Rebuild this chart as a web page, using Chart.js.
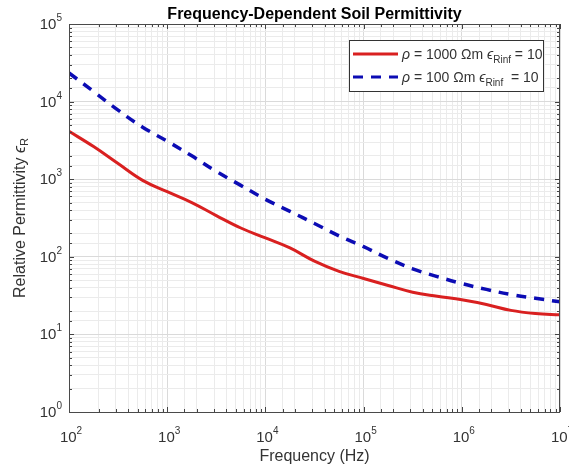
<!DOCTYPE html>
<html>
<head>
<meta charset="utf-8">
<script src="https://cdn.jsdelivr.net/npm/chart.js@4.4.0/dist/chart.umd.min.js"></script>
<style>
html,body{margin:0;padding:0;background:#fff;}
#wrap{width:569px;height:468px;}
</style>
</head>
<body>
<div id="wrap"><canvas id="c" width="569" height="468"></canvas></div>
<script>
// ---- data ----
const frequencies = [100,178,316,562,1000,1780,3160,5620,1e4,1.78e4,3.16e4,5.62e4,1e5,1.78e5,3.16e5,5.62e5,1e6,1.78e6,3.16e6,5.62e6,1e7];
const eps1000 = [4140,2630,1590,966,690,500,340,235,175,130,88,65,52.5,42.7,35,31,27.9,24.3,20.4,18.6,17.9];
const eps100  = [23400,13500,7760,4680,3090,2000,1260,832,550,385,269,186,135,95,70,55.6,45.2,38,32.7,29.2,26.3];
const xTickExps = [2,3,4,5,6,7];
const yTickExps = [0,1,2,3,4,5];
const titleText = 'Frequency-Dependent Soil Permittivity';
const xLabelText = 'Frequency (Hz)';
const yLabelParts = ['Relative Permittivity ', '\u03F5', 'R'];
const legend1 = ['\u03C1', ' = 1000 \u03A9m ', '\u03F5', 'Rinf', ' = 10'];
const legend2 = ['\u03C1', ' = 100 \u03A9m ', '\u03F5', 'Rinf', '  = 10'];

const RED = '#d92020';
const BLUE = '#0c0cb4';
const FONT = '"Liberation Sans", Arial, sans-serif';
const TXT = '#333333';

function pts(xs, ys){ return xs.map((x,i)=>({x:x, y:ys[i]})); }

function isMajor(v){ const l = Math.log10(v); return Math.abs(l - Math.round(l)) < 1e-9; }

function drawRich(ctx, parts, x, y, align){
  let w = 0;
  parts.forEach(p=>{ ctx.font = p.f; p.w = ctx.measureText(p.t).width; w += p.w; });
  let cx = align === 'center' ? x - w/2 : (align === 'right' ? x - w : x);
  ctx.textAlign = 'left';
  ctx.textBaseline = 'alphabetic';
  parts.forEach(p=>{ ctx.font = p.f; ctx.fillText(p.t, cx, y + (p.dy||0)); cx += p.w; });
  return w;
}

const decor = {
  id:'decor',
  afterDatasetsDraw(chart){
    const ctx = chart.ctx;
    const a = chart.chartArea;
    const xs = chart.scales.x, ys = chart.scales.y;
    ctx.save();
    ctx.strokeStyle = '#444';
    ctx.lineWidth = 1;
    xs.ticks.forEach(t=>{
      const px = Math.round(xs.getPixelForValue(t.value)) + 0.5;
      const L = isMajor(t.value) ? 5 : 3;
      ctx.beginPath();
      ctx.moveTo(px, a.bottom); ctx.lineTo(px, a.bottom - L);
      ctx.moveTo(px, a.top); ctx.lineTo(px, a.top + L);
      ctx.stroke();
    });
    ys.ticks.forEach(t=>{
      const py = Math.round(ys.getPixelForValue(t.value)) + 0.5;
      const L = isMajor(t.value) ? 5 : 3;
      ctx.beginPath();
      ctx.moveTo(a.left, py); ctx.lineTo(a.left + L, py);
      ctx.moveTo(a.right, py); ctx.lineTo(a.right - L, py);
      ctx.stroke();
    });
    ctx.strokeStyle = '#4a4a4a';
    ctx.strokeRect(Math.round(a.left)+0.5, Math.round(a.top)+0.5, Math.round(a.right - a.left)-1, Math.round(a.bottom - a.top));

    ctx.fillStyle = TXT;
    xTickExps.forEach(e=>{
      const px = xs.getPixelForValue(Math.pow(10,e));
      drawRich(ctx, [{t:'10', f:'15px '+FONT},{t:String(e), f:'10px '+FONT, dy:-8}], px+2, 442, 'center');
    });
    yTickExps.forEach(e=>{
      const py = ys.getPixelForValue(Math.pow(10,e));
      drawRich(ctx, [{t:'10', f:'15px '+FONT},{t:String(e), f:'10px '+FONT, dy:-8}], 62, py+5, 'right');
    });
    ctx.fillStyle = '#000';
    drawRich(ctx, [{t:titleText, f:'bold 16px '+FONT}], (a.left+a.right)/2, 19, 'center');
    ctx.fillStyle = TXT;
    drawRich(ctx, [{t:xLabelText, f:'16px '+FONT}], (a.left+a.right)/2, 461, 'center');
    ctx.save();
    ctx.translate(25, (a.top+a.bottom)/2);
    ctx.rotate(-Math.PI/2);
    drawRich(ctx, [
      {t:yLabelParts[0], f:'16px '+FONT},
      {t:yLabelParts[1], f:'italic 16px '+FONT},
      {t:yLabelParts[2], f:'11px '+FONT, dy:3}
    ], 0, 0, 'center');
    ctx.restore();

    const lx = 349.5, ly = 40.5, lw = 194, lh = 51;
    ctx.fillStyle = '#fff';
    ctx.fillRect(lx, ly, lw, lh);
    ctx.strokeStyle = '#333';
    ctx.lineWidth = 1;
    ctx.strokeRect(lx, ly, lw, lh);
    const rows = [
      {y:54, color:RED, dash:[], parts:legend1},
      {y:77, color:BLUE, dash:[10,8], parts:legend2}
    ];
    rows.forEach(r=>{
      ctx.beginPath();
      ctx.setLineDash(r.dash);
      ctx.strokeStyle = r.color;
      ctx.lineWidth = 3;
      ctx.moveTo(353, r.y); ctx.lineTo(398, r.y);
      ctx.stroke();
      ctx.setLineDash([]);
      ctx.fillStyle = TXT;
      drawRich(ctx, [
        {t:r.parts[0], f:'italic 14px '+FONT},
        {t:r.parts[1], f:'14px '+FONT},
        {t:r.parts[2], f:'italic 14px '+FONT},
        {t:r.parts[3], f:'10px '+FONT, dy:4},
        {t:r.parts[4], f:'14px '+FONT}
      ], 402, r.y + 5, 'left');
    });
    ctx.restore();
  }
};

new Chart(document.getElementById('c'), {
  type:'line',
  data:{
    datasets:[
      {label:'rho1000', data:pts(frequencies, eps1000), borderColor:RED, borderWidth:3, pointRadius:0, tension:0.4, fill:false},
      {label:'rho100', data:pts(frequencies, eps100), borderColor:BLUE, borderWidth:3.5, borderDash:[10,8], pointRadius:0, tension:0.4, fill:false}
    ]
  },
  options:{
    responsive:false,
    animation:false,
    devicePixelRatio:1,
    layout:{padding:{top:24, right:9, left:0, bottom:0}},
    plugins:{legend:{display:false}, title:{display:false}, tooltip:{enabled:false}},
    scales:{
      x:{
        type:'logarithmic', min:100, max:1e7,
        ticks:{display:false},
        border:{display:false},
        grid:{drawTicks:false, color:(c)=> (c.tick && isMajor(c.tick.value)) ? '#dadada' : '#ebebeb'},
        afterFit:(s)=>{ s.height = 56; }
      },
      y:{
        type:'logarithmic', min:1, max:1e5,
        ticks:{display:false},
        border:{display:false},
        grid:{drawTicks:false, color:(c)=> (c.tick && isMajor(c.tick.value)) ? '#dadada' : '#ebebeb'},
        afterFit:(s)=>{ s.width = 69; }
      }
    }
  },
  plugins:[decor]
});
</script>
</body>
</html>
